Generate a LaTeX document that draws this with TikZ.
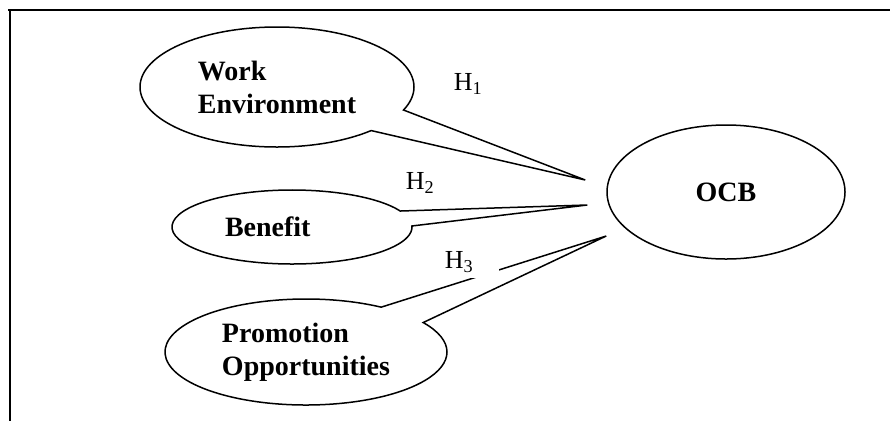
\documentclass[tikz,border=0pt]{standalone}
\usepackage{fontspec}
\setmainfont{Liberation Serif}
\usetikzlibrary{shapes.geometric,shapes.callouts}
\usetikzlibrary{calc,positioning}

\tikzset{
    factor/.style={ellipse callout, draw, line width=1.5pt, inner sep=0pt,
      align=left, callout pointer arc=24,
      font=\fontsize{28}{33}\selectfont\bfseries},
    outcome/.style={ellipse, draw, line width=1.5pt, inner sep=0pt,
      font=\fontsize{28}{33}\selectfont\bfseries},
    hyp/.style={fill=white, minimum width=70pt, minimum height=32pt,
      font=\fontsize{26}{30}\selectfont}
}

\begin{document}
\begin{tikzpicture}[x=1pt,y=-1pt]
    \useasboundingbox (0,0) rectangle (890,421);
    % frame: only top and left edges
    \draw[line width=1.3pt] (8,10) -- (890,10);
    \draw[line width=1.3pt] (10,10) -- (10,421);
    % dependent variable
    \node[outcome, minimum width=238pt, minimum height=134pt] (ocb) at (726,192) {OCB};
    % pointer tips just left of OCB
    \coordinate (tipwork) at ($(ocb.west)+(-21,-12)$);
    \coordinate (tipbenefit) at ($(ocb.west)+(-19,13)$);
    \coordinate (tippromo) at ($(ocb.west)+(0,44)$);
    % independent variables as callouts
    \node[factor, minimum width=274pt, minimum height=120pt,
      callout absolute pointer={(tipwork)}] (work) at (277,87)
      {Work\\Environment};
    \node[factor, minimum width=240pt, minimum height=74pt, text width=134pt,
      callout absolute pointer={(tipbenefit)}] (benefit) at (292,227)
      {Benefit};
    \node[factor, minimum width=282pt, minimum height=106pt,
      callout absolute pointer={(tippromo)}] (promo) at (306,352)
      {Promotion\\Opportunities};
    % hypotheses
    \node[hyp] (h1) at (468,84) {H\textsubscript{1}};
    \node[hyp] (h2) at (420,183) {H\textsubscript{2}};
    \node[hyp, minimum width=80pt] (h3) at (459,262) {H\textsubscript{3}};
\end{tikzpicture}
\end{document}
